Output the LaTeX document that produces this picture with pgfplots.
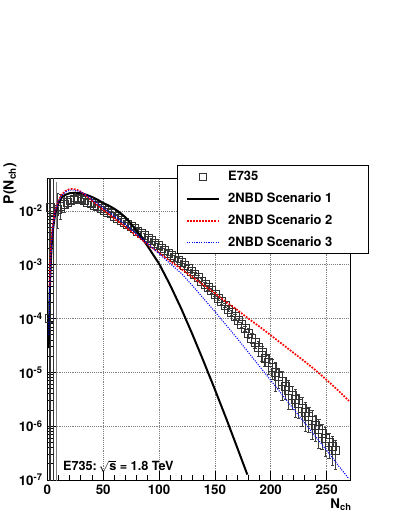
\documentclass[border=0pt]{standalone}
\usepackage{fontspec}
\setmainfont{TeX Gyre Heros}
\usepackage{pgfplots}
\pgfplotsset{compat=1.18}
\usepackage{pgfplotstable}

\pgfplotsset{
  lineleg/.style={legend image code/.code={\draw[##1] (0pt,0pt) -- (24pt,0pt);}},
  markleg/.style={legend image code/.code={\draw[##1, mark size=2.4pt] plot coordinates {(12pt,0pt)};}},
}

% E735 measured multiplicity distribution, 1.8 TeV
\pgfplotstableread{
N P ep em
1.5 1.00e-4 0 0
3 1.17e-2 0 0
6 1.00e-2 0 0
9 1.07e-2 1.1e-2 6.0e-3
12 1.20e-2 8.0e-3 5.0e-3
15 1.35e-2 6.0e-3 4.0e-3
18 1.48e-2 4.0e-3 3.0e-3
21 1.58e-2 3.0e-3 2.0e-3
24 1.66e-2 2.0e-3 1.7e-3
27 1.70e-2 1.7e-3 1.7e-3
30 1.66e-2 1.7e-3 1.7e-3
33 1.58e-2 1.6e-3 1.6e-3
36 1.48e-2 1.5e-3 1.5e-3
39 1.38e-2 1.4e-3 1.4e-3
42 1.29e-2 1.3e-3 1.3e-3
45 1.20e-2 1.2e-3 1.2e-3
48 1.12e-2 1.1e-3 1.1e-3
51 1.05e-2 1.0e-3 1.0e-3
54 9.55e-3 9.6e-4 9.6e-4
57 8.91e-3 8.9e-4 8.9e-4
60 8.13e-3 8.1e-4 8.1e-4
63 7.41e-3 7.4e-4 7.4e-4
66 6.76e-3 6.8e-4 6.8e-4
69 6.17e-3 6.2e-4 6.2e-4
72 5.62e-3 5.6e-4 5.6e-4
75 5.13e-3 5.1e-4 5.1e-4
78 4.68e-3 4.7e-4 4.7e-4
81 4.27e-3 4.3e-4 4.3e-4
84 3.80e-3 3.8e-4 3.8e-4
87 3.47e-3 3.5e-4 3.5e-4
90 3.09e-3 3.1e-4 3.1e-4
93 2.82e-3 2.8e-4 2.8e-4
96 2.51e-3 2.5e-4 2.5e-4
99 2.29e-3 2.3e-4 2.3e-4
102 2.04e-3 2.0e-4 2.0e-4
105 1.86e-3 1.9e-4 1.9e-4
108 1.66e-3 1.7e-4 1.7e-4
111 1.51e-3 1.5e-4 1.5e-4
114 1.35e-3 1.4e-4 1.4e-4
117 1.23e-3 1.2e-4 1.2e-4
120 1.10e-3 1.1e-4 1.1e-4
123 9.77e-4 9.8e-5 9.8e-5
126 8.71e-4 8.7e-5 8.7e-5
129 7.59e-4 7.6e-5 7.6e-5
132 6.61e-4 6.6e-5 6.6e-5
135 5.75e-4 5.8e-5 5.8e-5
138 5.01e-4 5.0e-5 5.0e-5
141 4.37e-4 4.4e-5 4.4e-5
144 3.80e-4 3.8e-5 3.8e-5
147 3.31e-4 3.3e-5 3.3e-5
150 2.82e-4 2.8e-5 2.8e-5
153 2.40e-4 2.4e-5 2.4e-5
156 2.09e-4 2.1e-5 2.1e-5
159 1.78e-4 1.8e-5 1.8e-5
162 1.51e-4 1.5e-5 1.5e-5
165 1.29e-4 1.3e-5 1.3e-5
168 1.10e-4 1.1e-5 1.1e-5
171 9.33e-5 9.3e-6 9.3e-6
174 7.76e-5 7.8e-6 7.8e-6
177 6.46e-5 6.5e-6 6.5e-6
180 5.37e-5 1.1e-5 1.1e-5
183 4.37e-5 8.7e-6 8.7e-6
186 3.55e-5 7.1e-6 7.1e-6
189 2.88e-5 8.6e-6 8.6e-6
192 2.34e-5 7.0e-6 7.0e-6
195 1.86e-5 5.6e-6 5.6e-6
198 1.51e-5 6.0e-6 6.0e-6
201 1.23e-5 4.9e-6 4.9e-6
204 1.00e-5 5.5e-6 5.5e-6
207 8.32e-6 3.3e-6 3.3e-6
210 6.76e-6 3.7e-6 3.7e-6
213 5.62e-6 2.5e-6 2.5e-6
216 4.57e-6 2.5e-6 2.5e-6
219 3.80e-6 1.7e-6 1.7e-6
222 3.16e-6 1.7e-6 1.7e-6
225 2.63e-6 1.2e-6 1.2e-6
228 2.19e-6 1.2e-6 1.2e-6
231 1.82e-6 1.0e-6 1.0e-6
234 1.51e-6 7.5e-7 7.5e-7
237 1.26e-6 6.9e-7 6.9e-7
240 1.05e-6 5.2e-7 5.2e-7
243 8.71e-7 4.8e-7 4.8e-7
246 7.24e-7 3.6e-7 3.6e-7
249 6.03e-7 3.3e-7 3.3e-7
252 5.01e-7 2.5e-7 2.5e-7
255 4.17e-7 2.3e-7 2.3e-7
258 3.55e-7 2.0e-7 2.0e-7
}\edata

\begin{document}
\begin{tikzpicture}
\useasboundingbox (-35.5pt,-27pt) rectangle (263.8pt,360pt);
\begin{axis}[
    at={(0pt,0pt)}, anchor=south west,
    scale only axis, width=227.5pt, height=226.3pt,
    xmin=0, xmax=271.5,
    ymode=log, ymin=1e-7, ymax=0.0406,
    xtick={0,50,100,150,200,250}, xticklabels={0,50,100,150,200,250},
    minor x tick num=4,
    ytick={1e-7,1e-6,1e-5,1e-4,1e-3,1e-2},
    yticklabels={10\textsuperscript{-7},10\textsuperscript{-6},10\textsuperscript{-5},
                 10\textsuperscript{-4},10\textsuperscript{-3},10\textsuperscript{-2}},
    tick align=inside, xtick pos=left, ytick pos=left,
    major tick length=7pt, minor tick length=4pt,
    tick style={black, line width=0.6pt},
    axis line style={line width=0.7pt},
    grid=major, major grid style={black!50, densely dotted, line width=0.5pt},
    tick label style={font=\fontsize{10}{12}\selectfont\bfseries},
    clip mode=individual,
    legend cell align=left,
    legend style={at={(axis description cs:0.429,1.043)}, anchor=north west,
        draw=black, line width=0.6pt, fill=white,
        font=\fontsize{9.7}{11}\selectfont\bfseries,
        inner xsep=6pt, inner ysep=3.75pt, row sep=7.5pt, column sep=6.2pt,
        nodes={inner sep=0pt, text height=7pt, text depth=2pt}},
]
\addplot[only marks, mark=square, mark size=3pt, markleg,
    mark options={line width=0.5pt, draw=black!80},
    error bars/.cd, y dir=both, y explicit,
    error bar style={line width=0.5pt, black!75},
    error mark options={rotate=90, mark size=1.3pt, line width=0.5pt, black!75}]
    table[x=N, y=P, y error plus=ep, y error minus=em]{\edata};
\addlegendentry{\makebox[99.5pt][l]{E735}}
% low multiplicity bins: errors larger than the value
\addplot[black!80, line width=0.5pt, forget plot] coordinates {(1.5,5e-8) (1.5,0.06)};
\addplot[black!80, line width=0.5pt, forget plot] coordinates {(3,5e-8) (3,0.06)};
\addplot[black!80, line width=0.5pt, forget plot] coordinates {(5,5e-8) (5,0.06)};
\addplot[black!50, line width=0.5pt, forget plot] coordinates {(8.5,5e-8) (8.5,0.035)};

\addplot[black, line width=1.5pt, no markers, lineleg]
    coordinates {(1.2,2.82e-5) (2,2.51e-4) (3,1.0e-3) (4,2.51e-3) (5,4.47e-3) (7,8.91e-3)
    (10,1.41e-2) (13,1.78e-2) (16,2.0e-2) (20,2.14e-2) (25,2.19e-2) (30,2.14e-2)
    (35,2.0e-2) (40,1.82e-2) (45,1.62e-2) (50,1.41e-2) (55,1.26e-2) (60,1.10e-2)
    (65,9.33e-3) (70,7.59e-3) (75,5.75e-3) (80,4.27e-3) (85,3.09e-3) (90,2.19e-3)
    (95,1.51e-3) (100,1.05e-3) (110,4.17e-4) (120,1.51e-4) (130,5.01e-5) (140,1.58e-5)
    (150,4.79e-6) (160,1.41e-6) (170,3.98e-7) (179,1.26e-7)};
\addlegendentry{\makebox[99.5pt][l]{2NBD Scenario 1}}

\addplot[red, line width=1.3pt, densely dotted, no markers, lineleg]
    coordinates {(2,3.98e-4) (3,1.78e-3) (4,3.55e-3) (5,5.62e-3) (7,1.0e-2) (10,1.58e-2)
    (13,2.04e-2) (16,2.34e-2) (19,2.51e-2) (22,2.57e-2) (26,2.51e-2) (30,2.29e-2)
    (35,1.91e-2) (40,1.55e-2) (46,1.23e-2) (50,1.05e-2) (60,7.24e-3) (70,5.01e-3)
    (80,3.47e-3) (90,2.40e-3) (100,1.66e-3) (110,1.17e-3) (120,8.32e-4) (130,5.89e-4)
    (140,4.17e-4) (150,2.95e-4) (160,2.04e-4) (170,1.45e-4) (180,1.0e-4) (190,7.08e-5)
    (200,4.90e-5) (210,3.39e-5) (220,2.34e-5) (230,1.62e-5) (240,1.10e-5) (250,7.24e-6)
    (260,4.68e-6) (270,2.95e-6)};
\addlegendentry{\makebox[99.5pt][l]{2NBD Scenario 2}}

\addplot[blue, line width=0.8pt, densely dotted, no markers, lineleg]
    coordinates {(1.3,5.01e-5) (2,2.82e-4) (3,1.12e-3) (4,2.82e-3) (5,5.01e-3) (7,9.55e-3)
    (10,1.51e-2) (13,1.95e-2) (16,2.24e-2) (20,2.45e-2) (24,2.45e-2) (28,2.34e-2)
    (32,2.14e-2) (36,1.91e-2) (40,1.62e-2) (46,1.32e-2) (50,1.15e-2) (60,8.13e-3)
    (70,5.62e-3) (80,3.72e-3) (90,2.45e-3) (100,1.62e-3) (110,1.05e-3) (120,6.92e-4)
    (130,4.07e-4) (140,2.34e-4) (150,1.35e-4) (160,7.59e-5) (170,4.27e-5) (180,2.34e-5)
    (190,1.29e-5) (200,7.08e-6) (210,3.89e-6) (220,2.14e-6) (230,1.17e-6) (240,6.46e-7)
    (250,3.55e-7) (260,1.91e-7) (270,1.05e-7)};
\addlegendentry{\makebox[99.5pt][l]{2NBD Scenario 3}}

\node[rotate=90, anchor=east, inner sep=0pt, font=\fontsize{10.5}{12}\selectfont\bfseries]
    at (axis description cs:-0.123,1.051) {P(N\textsubscript{ch})};
\node[anchor=base east, inner sep=0pt, font=\fontsize{10}{12}\selectfont\bfseries]
    at (axis description cs:1.004,-0.093) {N\textsubscript{ch}};
\node[anchor=base west, inner sep=0pt, font=\fontsize{9.5}{11}\selectfont\bfseries]
    at (axis description cs:0.051,0.030) {E735:\,$\sqrt{\mbox{s}}$ = 1.8 TeV};
\end{axis}
\end{tikzpicture}
\end{document}
